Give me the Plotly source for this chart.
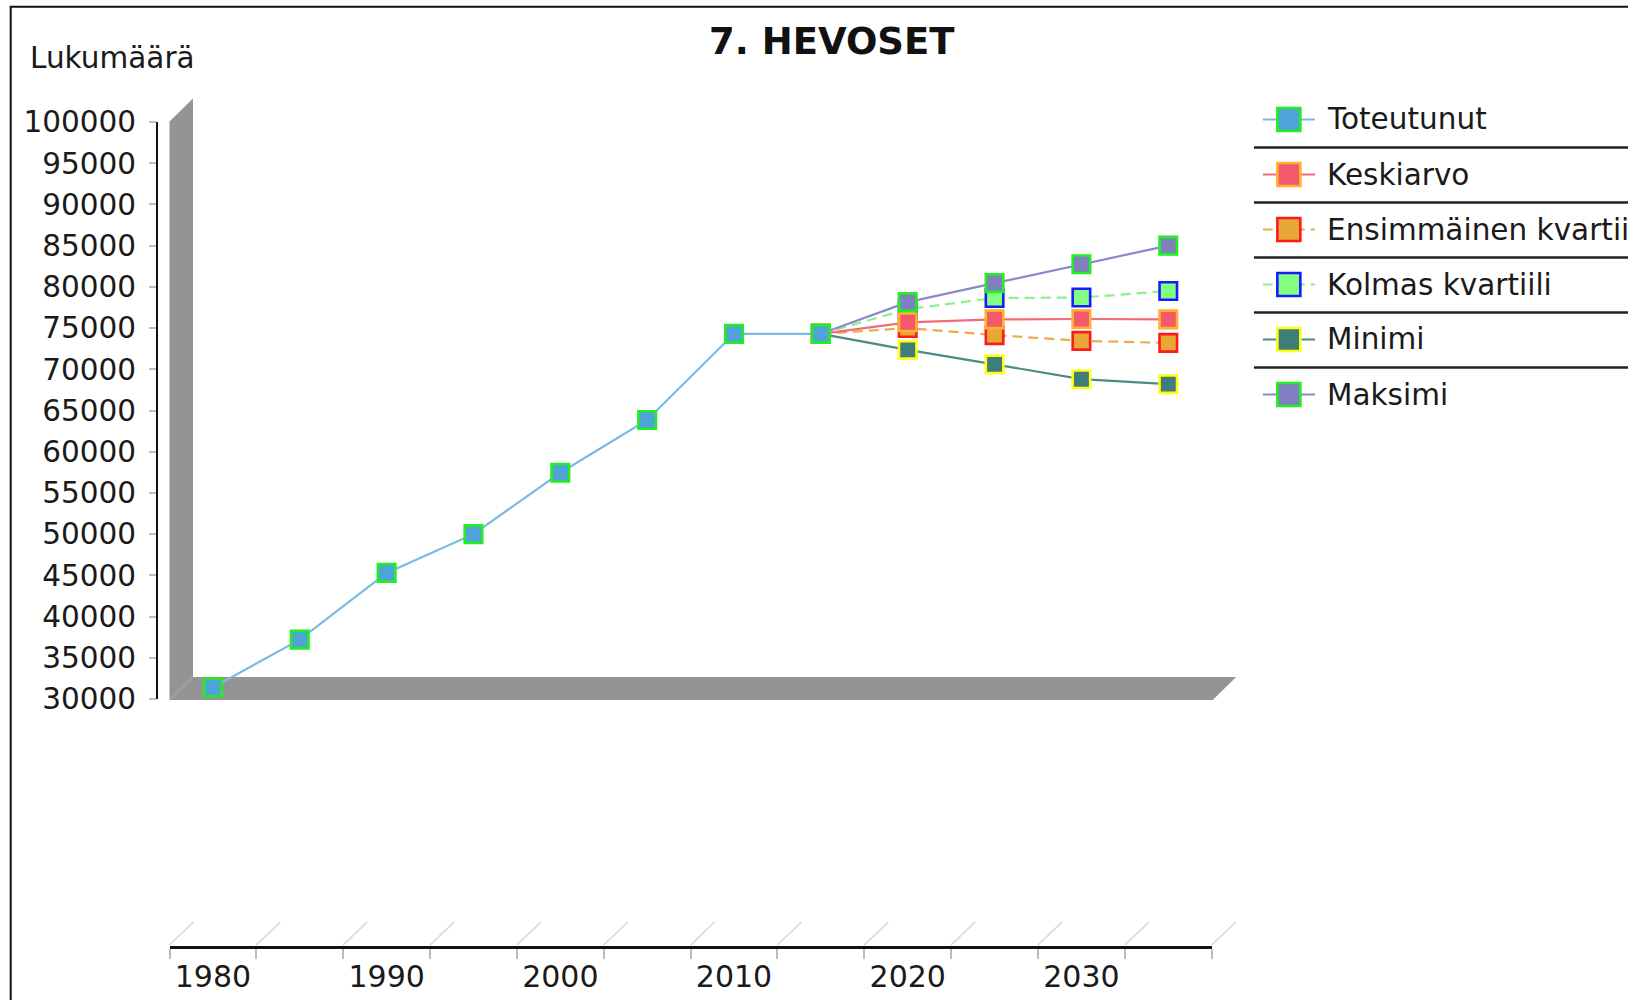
import plotly.graph_objects as go

# ---------------- data ----------------
years_hist = [1980, 1985, 1990, 1995, 2000, 2005, 2010, 2015]
toteutunut = [31400, 37200, 45300, 50000, 57450, 63850, 74300, 74300]

years_fc = [2015, 2020, 2025, 2030, 2035]
keskiarvo = [74300, 75700, 76050, 76100, 76050]
ensimmainen = [74300, 75000, 74150, 73450, 73200]
kolmas = [74300, 77300, 78650, 78700, 79500]
minimi = [74300, 72350, 70600, 68800, 68200]
maksimi = [74300, 78150, 80450, 82750, 85000]

series_names = ["Toteutunut", "Keskiarvo", "Ensimmäinen kvartiili",
                "Kolmas kvartiili", "Minimi", "Maksimi"]
x_tickvals = [1980, 1990, 2000, 2010, 2020, 2030]
x_ticklabels = ["1980", "1990", "2000", "2010", "2020", "2030"]
y_tickvals = list(range(30000, 100001, 5000))

title_text = "7. HEVOSET"
y_title = "Lukumäärä"

# ---------------- layout geometry (pixels) ----------------
FIG_W, FIG_H = 1628, 1000
ML, MB = 157, 53
PW, PH = FIG_W - ML, FIG_H - MB   # paper width / height


def px(x):
    return (x - ML) / PW


def py(y):
    return (PH - y) / PH


PLOT_L, PLOT_R = 169.5, 1211.7
PLOT_T, PLOT_B = 122, 699
all_years = years_hist + years_fc[1:]
x_lo = all_years[0] - 2.5
x_hi = all_years[-1] + 2.5
ppy = (PLOT_R - PLOT_L) / (x_hi - x_lo)
DEPTH = 23.5

FONT = "DejaVu Sans"
TXT = "#1a1a1a"
FS = 29.5

styles = {
    "Toteutunut": dict(fill="#4fa3d9", border="#22ee22", line="#76bbe6", dash="solid"),
    "Keskiarvo": dict(fill="#f25a6c", border="#ffb02e", line="#f06c7c", dash="solid"),
    "Ensimmäinen kvartiili": dict(fill="#e8a838", border="#ff1a1a", line="#eaac4a", dash="10px,6px"),
    "Kolmas kvartiili": dict(fill="#80ff80", border="#1a1aff", line="#8cf08c", dash="10px,6px"),
    "Minimi": dict(fill="#3f7d78", border="#ffff1a", line="#4d8a86", dash="solid"),
    "Maksimi": dict(fill="#8080c0", border="#22ee22", line="#8a8ac8", dash="solid"),
}

series_data = {
    "Toteutunut": (years_hist, toteutunut),
    "Keskiarvo": (years_fc, keskiarvo),
    "Ensimmäinen kvartiili": (years_fc, ensimmainen),
    "Kolmas kvartiili": (years_fc, kolmas),
    "Minimi": (years_fc, minimi),
    "Maksimi": (years_fc, maksimi),
}
draw_order = ["Ensimmäinen kvartiili", "Kolmas kvartiili", "Minimi",
              "Keskiarvo", "Maksimi", "Toteutunut"]

fig = go.Figure()

for name in draw_order:
    xs, ys = series_data[name]
    st = styles[name]
    fig.add_trace(go.Scatter(
        x=xs, y=ys, name=name, mode="lines+markers",
        line=dict(color=st["line"], width=2.2, dash=st["dash"]),
        marker=dict(symbol="square", size=17.5, color=st["fill"],
                    line=dict(color=st["border"], width=2.6)),
        cliponaxis=False, showlegend=False,
        xaxis="x", yaxis="y",
    ))

# manual legend on helper axes
for i, name in enumerate(series_names):
    st = styles[name]
    fig.add_trace(go.Scatter(
        x=[0, 1], y=[i, i], mode="lines",
        line=dict(color=st["line"], width=2, dash=st["dash"]),
        showlegend=False, hoverinfo="skip", xaxis="x3", yaxis="y3",
        cliponaxis=False,
    ))
    fig.add_trace(go.Scatter(
        x=[0.5], y=[i], mode="markers",
        marker=dict(symbol="square", size=23, color=st["fill"],
                    line=dict(color=st["border"], width=2.6)),
        showlegend=False, hoverinfo="skip", xaxis="x3", yaxis="y3",
        cliponaxis=False,
    ))

shapes = []
# chart border
shapes.append(dict(type="rect", xref="paper", yref="paper",
                   x0=px(10.7), x1=px(1700), y0=py(6.7), y1=py(1100),
                   line=dict(color="#111111", width=2), fillcolor="rgba(0,0,0,0)",
                   layer="below"))
# 3D wall + floor
wall = [(PLOT_L, PLOT_B + 1), (PLOT_L, PLOT_T - 0.5), (PLOT_L + DEPTH, PLOT_T - DEPTH),
        (PLOT_L + DEPTH, PLOT_B - 22), (PLOT_R + DEPTH + 1, PLOT_B - 22),
        (PLOT_R + 1, PLOT_B + 1)]
path = "M " + " L ".join(f"{px(a):.6f},{py(b):.6f}" for a, b in wall) + " Z"
shapes.append(dict(type="path", xref="paper", yref="paper", path=path,
                   fillcolor="#949494", line=dict(width=0), layer="below"))
shapes.append(dict(type="line", xref="paper", yref="paper",
                   x0=px(PLOT_L), y0=py(PLOT_B + 1), x1=px(PLOT_L + DEPTH), y1=py(PLOT_B - 22),
                   line=dict(color="#a4a4a4", width=1.5), layer="below"))
# x-axis diagonal depth lines at category boundaries
AX_Y = PH
for k in range(len(all_years) + 1):
    b = x_lo + 5 * k
    xp = PLOT_L + (b - x_lo) * ppy
    shapes.append(dict(type="line", xref="paper", yref="paper",
                       x0=px(xp), y0=py(AX_Y - 2), x1=px(xp + 24), y1=py(AX_Y - 25),
                       line=dict(color="#d6d6d6", width=1.5), layer="below"))
# legend separators
LEG_Y0 = 119.5
LEG_DY = 55
for k in range(len(series_names) - 1):
    yy = LEG_Y0 + LEG_DY * k + 28
    shapes.append(dict(type="line", xref="paper", yref="paper",
                       x0=px(1254), x1=px(1640), y0=py(yy), y1=py(yy),
                       line=dict(color="#222222", width=2.5)))

annotations = []
annotations.append(dict(text=f"<b>{title_text}</b>", xref="paper", yref="paper",
                        x=px(832), y=py(42), xanchor="center", yanchor="middle",
                        showarrow=False, font=dict(family=FONT, size=37, color="#111111")))
annotations.append(dict(text=y_title, xref="paper", yref="paper",
                        x=px(28), y=py(58), xanchor="left", yanchor="middle",
                        showarrow=False, font=dict(family=FONT, size=FS, color=TXT)))
for i, name in enumerate(series_names):
    annotations.append(dict(text=name, xref="paper", yref="paper",
                            x=px(1325), y=py(LEG_Y0 + LEG_DY * i), xanchor="left",
                            yanchor="middle", showarrow=False,
                            font=dict(family=FONT, size=29.5, color=TXT)))

fig.update_layout(
    width=FIG_W, height=FIG_H,
    margin=dict(l=ML, r=0, t=0, b=MB, pad=0, autoexpand=False),
    paper_bgcolor="white", plot_bgcolor="rgba(0,0,0,0)",
    showlegend=False,
    font=dict(family=FONT, size=FS, color=TXT),
    xaxis=dict(
        domain=[px(PLOT_L), px(PLOT_R)], range=[x_lo, x_hi],
        anchor="free", position=0,
        showgrid=False, zeroline=False, showline=True, linecolor="#111111", linewidth=2.5,
        tickmode="array", tickvals=x_tickvals, ticktext=x_ticklabels,
        ticks="", ticklabelstandoff=2,
        tickfont=dict(family=FONT, size=30, color=TXT),
        minor=dict(tickmode="linear", tick0=x_lo, dtick=5, ticks="outside",
                   ticklen=10, tickwidth=2, tickcolor="#bdbdbd", showgrid=False),
        fixedrange=True,
    ),
    yaxis=dict(
        domain=[py(PLOT_B), py(PLOT_T)], range=[30000, 100000],
        anchor="free", position=0,
        showgrid=False, zeroline=False, showline=True, linecolor="#111111", linewidth=2,
        tickmode="array", tickvals=y_tickvals, tickformat="d",
        ticks="outside", ticklen=7, tickwidth=2, tickcolor="#bdbdbd",
        ticklabelstandoff=7,
        tickfont=dict(family=FONT, size=FS, color=TXT),
        fixedrange=True,
    ),
    xaxis3=dict(domain=[px(1262.7), px(1315)], range=[0, 1], visible=False,
                anchor="y3", fixedrange=True),
    yaxis3=dict(domain=[py(LEG_Y0 + LEG_DY * 5.5), py(LEG_Y0 - LEG_DY * 0.5)],
                range=[len(series_names) - 0.5, -0.5], visible=False,
                anchor="x3", fixedrange=True),
    shapes=shapes,
    annotations=annotations,
)

fig.write_html(
    "out.html",
    config={"displayModeBar": False, "responsive": False},
    post_script="document.documentElement.style.margin='0';"
                "document.body.style.margin='0';"
                "document.body.style.overflow='hidden';",
)
